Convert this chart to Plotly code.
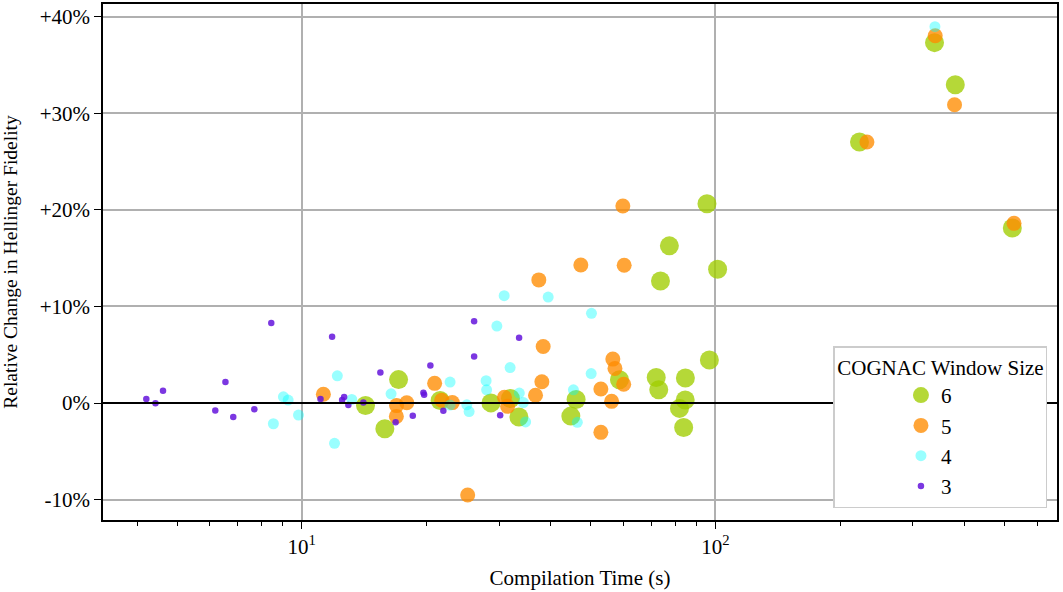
import plotly.graph_objects as go

# ---- data (compilation time in s, relative change in Hellinger fidelity in %) ----
w6_time = [14.26, 15.88, 17.14, 21.60, 28.66, 31.95, 33.49, 46.04, 44.71, 58.61,
           71.91, 72.93, 84.59, 84.50, 81.85, 83.77, 96.67, 73.63, 77.37, 95.37,
           101.2, 222.9, 338.4, 379.9, 521.8]
w6_change = [-0.26, -2.66, 2.43, 0.26, 0.02, 0.47, -1.45, 0.38, -1.35, 2.42,
             2.64, 1.38, 2.59, 0.31, -0.55, -2.52, 4.45, 12.63, 16.27, 20.62,
             13.85, 27.02, 37.30, 32.95, 18.12]

w5_time = [11.28, 16.95, 16.93, 17.94, 20.95, 21.78, 23.12, 25.18, 30.90, 31.45,
           36.73, 38.05, 38.33, 37.41, 47.27, 52.84, 52.84, 56.10, 56.48, 57.15,
           60.00, 59.72, 60.16, 232.3, 339.7, 378.3, 526.7]
w5_change = [0.91, -0.26, -1.38, 0.03, 2.04, 0.29, 0.05, -9.52, 0.60, -0.34,
             0.81, 2.20, 5.85, 12.75, 14.29, 1.45, -3.03, 0.18, 4.55, 3.59,
             1.95, 20.39, 14.26, 27.02, 38.02, 30.88, 18.60]

w4_time = [9.03, 9.27, 8.54, 9.82, 12.19, 12.00, 13.21, 16.44, 22.83, 22.83,
           25.06, 25.38, 27.90, 27.98, 29.62, 30.85, 31.89, 33.56, 34.33, 34.76,
           39.41, 45.36, 46.35, 50.07, 50.15, 339.2]
w4_change = [0.65, 0.31, -2.14, -1.24, 2.82, -4.17, 0.38, 0.96, 2.17, -0.21,
             -0.18, -0.88, 2.31, 1.37, 7.97, 11.11, 3.67, 1.04, 0.05, -1.95,
             10.97, 1.37, -1.99, 3.05, 9.29, 38.95]

w3_time = [4.21, 4.43, 4.62, 6.18, 6.54, 6.83, 7.68, 8.44, 11.10, 11.84,
           12.66, 12.52, 12.96, 14.09, 15.49, 16.86, 18.55, 19.68, 19.76, 20.46,
           21.99, 26.10, 26.10, 30.17, 33.52]
w3_change = [0.41, -0.03, 1.27, -0.76, 2.17, -1.45, -0.65, 8.28, 0.41, 6.86,
             0.62, 0.31, -0.19, 0.07, 3.16, -1.99, -1.31, 1.07, 0.85, 3.90,
             -0.80, 8.46, 4.81, -1.26, 6.76]

series_names = ["6", "5", "4", "3"]
x_tickvals = [10, 100]
x_ticktext = ["10<sup>1</sup>", "10<sup>2</sup>"]
y_tickvals = [-10, 0, 10, 20, 30, 40]
y_ticktext = ["-10%", "0%", "+10%", "+20%", "+30%", "+40%"]

FONT = "Liberation Serif, Times New Roman, serif"
colors = ["rgba(160,205,0,0.78)", "rgba(255,140,0,0.78)",
          "rgba(0,255,255,0.40)", "rgba(100,20,220,0.85)"]
sizes = [19, 15, 11, 6.5]

fig = go.Figure()
for name, xs, ys, c, s in zip(series_names,
                              [w6_time, w5_time, w4_time, w3_time],
                              [w6_change, w5_change, w4_change, w3_change],
                              colors, sizes):
    fig.add_trace(go.Scatter(x=xs, y=ys, mode="markers", name=name,
                             marker=dict(color=c, size=s, line=dict(width=0))))

# horizontal reference line at 0 drawn above markers
fig.add_shape(type="line", xref="paper", x0=0, x1=1, yref="y", y0=0, y1=0,
              line=dict(color="black", width=2), layer="above")

fig.update_layout(
    width=1063, height=592,
    margin=dict(l=103, r=6, t=4, b=72, autoexpand=False),
    paper_bgcolor="white", plot_bgcolor="white",
    font=dict(family=FONT, size=21, color="black"),
    showlegend=True,
    legend=dict(
        title=dict(text="COGNAC Window Size", side="top center",
                   font=dict(family=FONT, size=21)),
        x=0.99, xanchor="right", y=0.023, yanchor="bottom",
        bgcolor="white", bordercolor="#cccccc", borderwidth=1.5,
        itemsizing="trace", indentation=66, font=dict(family=FONT, size=21),
    ),
)

fig.update_xaxes(
    type="log", range=[0.5196, 2.8255], automargin=False,
    tickvals=x_tickvals, ticktext=x_ticktext,
    showgrid=True, gridcolor="#b0b0b0", gridwidth=1.8,
    showline=True, linecolor="black", linewidth=1.5, mirror=True,
    ticks="outside", ticklen=7, tickwidth=1.2, tickcolor="black",
    minor=dict(ticks="outside", ticklen=4, tickwidth=1, tickcolor="black",
               dtick="D1", showgrid=False),
    zeroline=False,
    title=dict(text="Compilation Time (s)", font=dict(family=FONT, size=21), standoff=12),
    tickfont=dict(family=FONT, size=21),
)
fig.update_yaxes(
    range=[-12.1, 41.3], automargin=False,
    tickvals=y_tickvals, ticktext=y_ticktext,
    showgrid=True, gridcolor="#b0b0b0", gridwidth=1.8,
    showline=True, linecolor="black", linewidth=1.5, mirror=True,
    ticks="outside", ticklen=7, tickwidth=1.2, tickcolor="black",
    zeroline=False,
    title=dict(text="Relative Change in Hellinger Fidelity",
               font=dict(family=FONT, size=19.5), standoff=18),
    tickfont=dict(family=FONT, size=21),
)

fig.write_html("out.html", config={"displayModeBar": False},
               post_script="document.body.style.margin='0';")
